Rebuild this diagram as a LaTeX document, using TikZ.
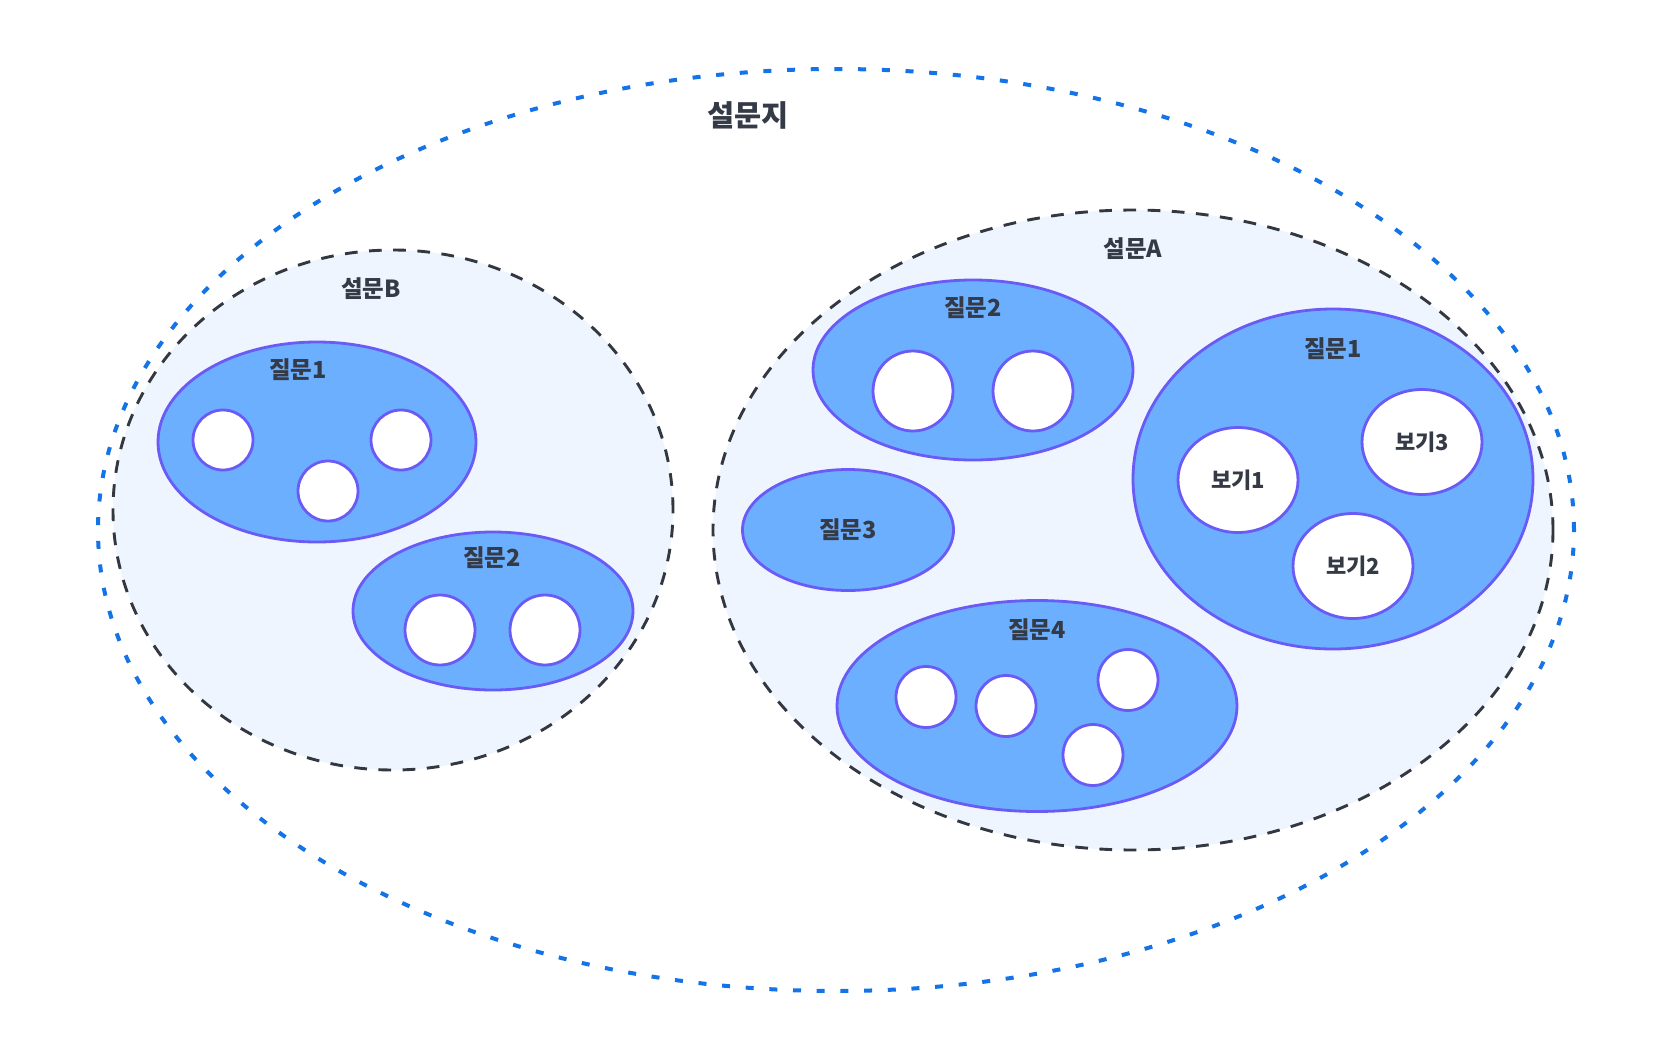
\documentclass[tikz,border=0pt]{standalone}
\usepackage{fontspec}
\setmainfont{Noto Sans CJK KR}
\definecolor{qfill}{HTML}{6DAFFF}
\definecolor{qline}{HTML}{6A5AF6}
\definecolor{grpfill}{HTML}{EEF5FE}
\definecolor{grpline}{HTML}{333740}
\definecolor{outline}{HTML}{1473E6}
\definecolor{txt}{HTML}{343A46}
\tikzset{
  outerset/.style={ellipse, draw=outline, line width=4pt, dash pattern=on 8pt off 15.7pt, inner sep=0pt},
  grp/.style={ellipse, draw=grpline, fill=grpfill, line width=2.9pt, dash pattern=on 12.7pt off 11.5pt, inner sep=0pt},
  qbox/.style={ellipse, draw=qline, fill=qfill, line width=2.8pt, inner sep=0pt},
  opt/.style={ellipse, draw=qline, fill=white, line width=2.8pt, inner sep=0pt},
  lbl/.style={text=txt, font=\bfseries\fontsize{23.5}{28}\selectfont, inner sep=0pt},
  optlbl/.style={font=\bfseries\fontsize{22}{26}\selectfont, text=txt},
}
\usetikzlibrary{shapes.geometric}
\begin{document}
\begin{tikzpicture}[x=1pt,y=-1pt]
\useasboundingbox (0,0) rectangle (1671,1060);
\fill[white] (0,0) rectangle (1671,1060);
% outer
\node[outerset, minimum width=1476pt, minimum height=922pt] (survey) at (836,530) {};
\node[text=txt, font=\fontsize{29.5}{34}\selectfont\bfseries, inner sep=0pt] (surveylbl) at (748,115) {설문지};
% group B
\node[grp, minimum width=560pt, minimum height=520pt] (gB) at (393,510) {};
\node[lbl] (gBl) at (371,289) {설문B};
\node[qbox, minimum width=318pt, minimum height=200pt] (bq1) at (317,442) {};
\node[lbl] (bq1l) at (298,370) {질문1};
\node[opt, minimum width=60pt, minimum height=60pt] (bq1a) at (223,440) {};
\node[opt, minimum width=60pt, minimum height=60pt] (bq1b) at (401,440) {};
\node[opt, minimum width=60pt, minimum height=60pt] (bq1c) at (328,491) {};
\node[qbox, minimum width=280pt, minimum height=158pt] (bq2) at (493,611) {};
\node[lbl] (bq2l) at (492,558) {질문2};
\node[opt, minimum width=70pt, minimum height=70pt] (bq2a) at (440,630) {};
\node[opt, minimum width=70pt, minimum height=70pt] (bq2b) at (545,630) {};
% group A
\node[grp, minimum width=840pt, minimum height=640pt] (gA) at (1133,530) {};
\node[lbl] (gAl) at (1133,249) {설문A};
\node[qbox, minimum width=320pt, minimum height=180pt] (aq2) at (973,370) {};
\node[lbl] (aq2l) at (973,308) {질문2};
\node[opt, minimum width=80pt, minimum height=80pt] (aq2a) at (913,391) {};
\node[opt, minimum width=80pt, minimum height=80pt] (aq2b) at (1033,391) {};
\node[qbox, minimum width=211pt, minimum height=121pt] (aq3) at (848,530) {};
\node[lbl] (aq3l) at (848,530) {질문3};
\node[qbox, minimum width=400pt, minimum height=340pt] (aq1) at (1333,479) {};
\node[lbl] (aq1l) at (1333,349) {질문1};
\node[opt, optlbl, minimum width=120pt, minimum height=105pt] (o1) at (1238,480) {보기1};
\node[opt, optlbl, minimum width=120pt, minimum height=105pt] (o3) at (1422,442) {보기3};
\node[opt, optlbl, minimum width=120pt, minimum height=105pt] (o2) at (1353,566) {보기2};
\node[qbox, minimum width=400pt, minimum height=211pt] (aq4) at (1037,706) {};
\node[lbl] (aq4l) at (1037,630) {질문4};
\node[opt, minimum width=60pt, minimum height=61pt] (aq4a) at (926,697) {};
\node[opt, minimum width=60pt, minimum height=61pt] (aq4b) at (1006,706) {};
\node[opt, minimum width=60pt, minimum height=61pt] (aq4c) at (1128,680) {};
\node[opt, minimum width=60pt, minimum height=61pt] (aq4d) at (1093,755) {};
\end{tikzpicture}
\end{document}
